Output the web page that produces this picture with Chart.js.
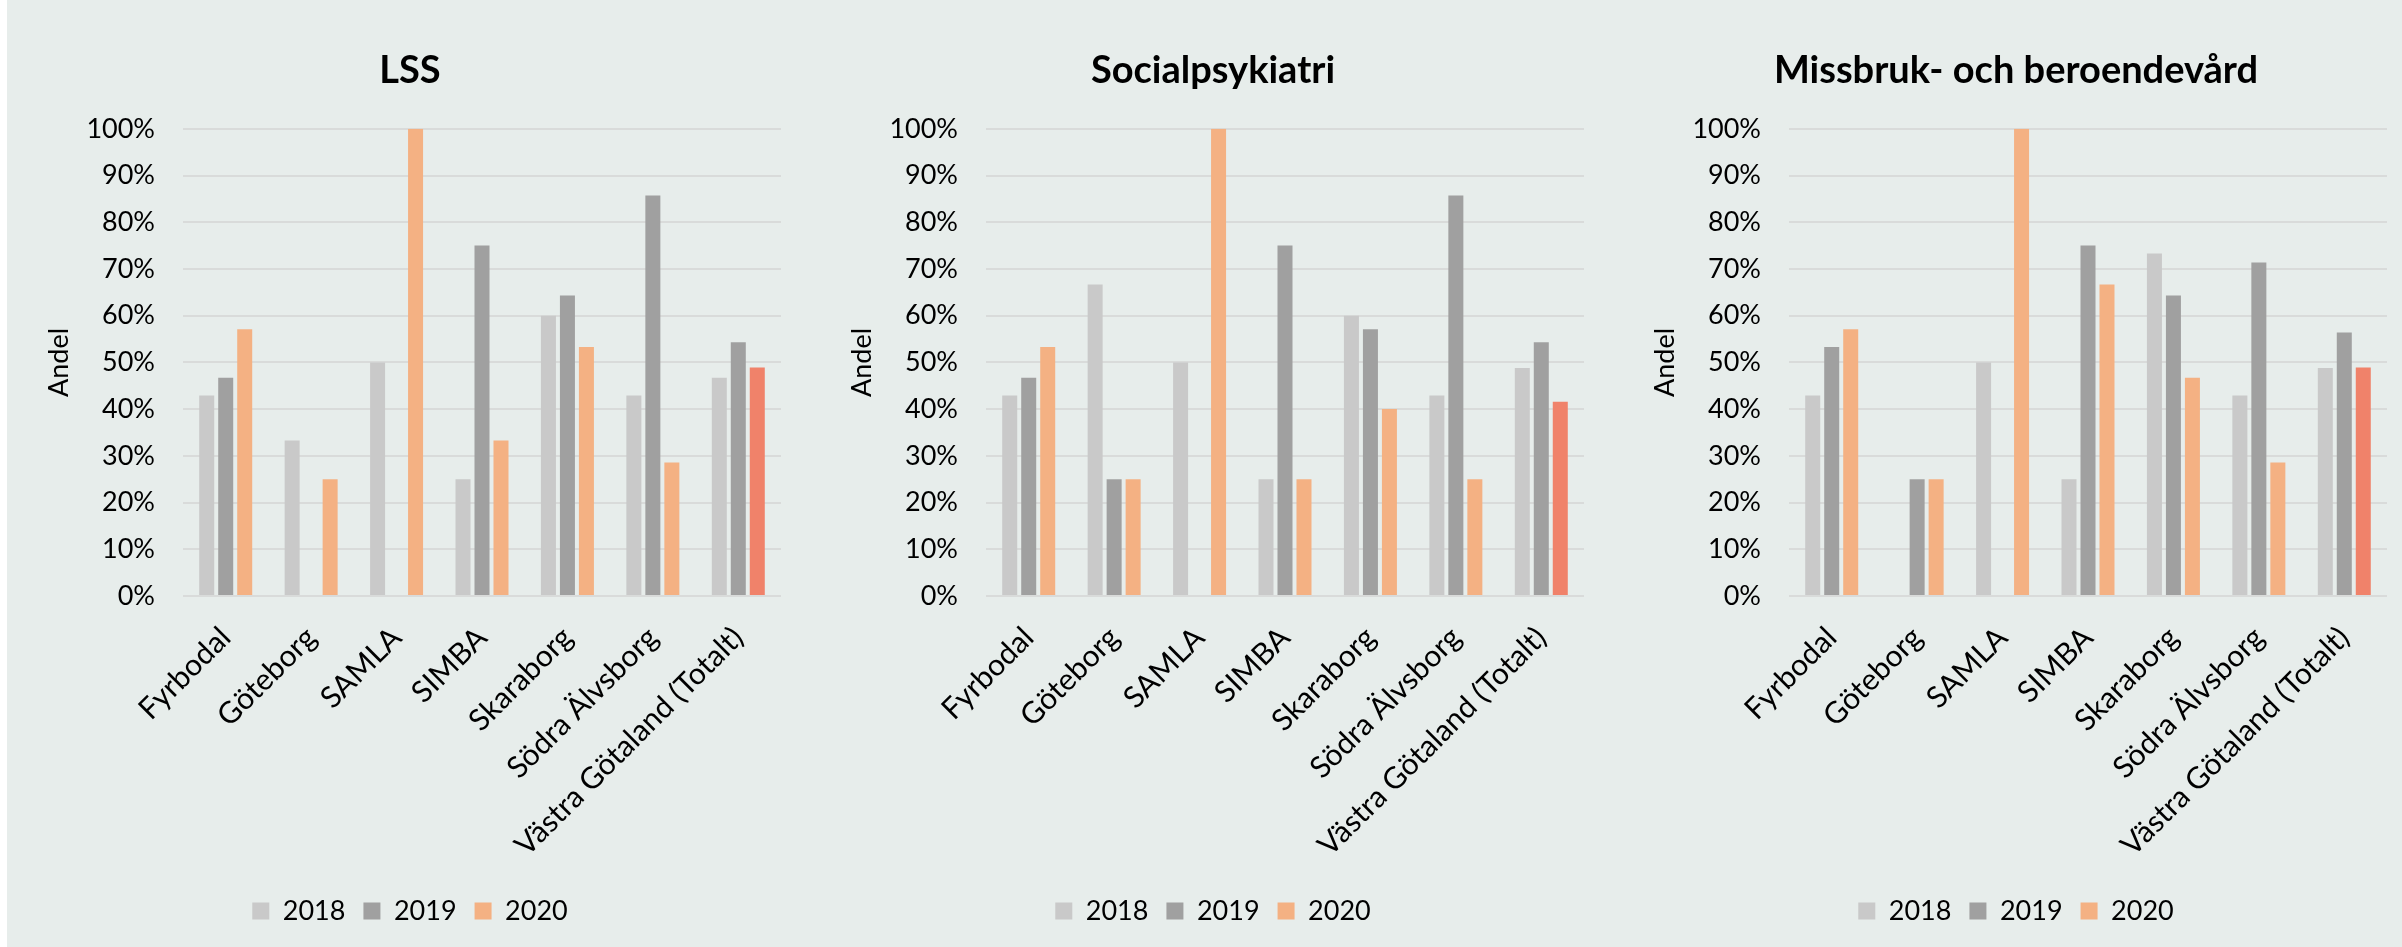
<!DOCTYPE html>
<html>
<head>
<meta charset="utf-8">
<script src="https://cdn.jsdelivr.net/npm/chart.js@4"></script>
<style>
  body { margin: 0; width: 2402px; height: 947px; background: #e7edeb; overflow: hidden; position: relative; }
  #strip { position: absolute; left: 0; top: 0; width: 7px; height: 947px; background: #fff; }
  canvas { position: absolute; top: 0; }
</style>
</head>
<body>
<div id="strip"></div>
<canvas id="c1" width="816" height="947" style="left:0px"></canvas>
<canvas id="c2" width="816" height="947" style="left:803px"></canvas>
<canvas id="c3" width="816" height="947" style="left:1606px"></canvas>
<script>
const categories = ["Fyrbodal", "Göteborg", "SAMLA", "SIMBA", "Skaraborg", "Södra Älvsborg", "Västra Götaland (Totalt)"];
const years = ["2018", "2019", "2020"];
const yTicks = [0, 10, 20, 30, 40, 50, 60, 70, 80, 90, 100];

// andel i procent, null = inget värde
const lss2018 = [42.9, 33.3, 50, 25, 60, 42.9, 46.7];
const lss2019 = [46.7, null, null, 75, 64.3, 85.7, 54.3];
const lss2020 = [57.1, 25, 100, 33.3, 53.3, 28.6, 48.9];

const soc2018 = [42.9, 66.7, 50, 25, 60, 42.9, 48.8];
const soc2019 = [46.7, 25, null, 75, 57.1, 85.7, 54.3];
const soc2020 = [53.3, 25, 100, 25, 40, 25, 41.6];

const mis2018 = [42.9, null, 50, 25, 73.3, 42.9, 48.8];
const mis2019 = [53.3, 25, null, 75, 64.3, 71.4, 56.4];
const mis2020 = [57.1, 25, 100, 66.7, 46.7, 28.6, 48.9];

Chart.defaults.font.family = "Lato, 'Open Sans', sans-serif";
Chart.defaults.font.size = 27;
Chart.defaults.color = "#000";

const GREY1 = "#c9c9c9";
const GREY2 = "#a0a0a0";
const PEACH = "#f4b183";
const SALMON = "#f0826a";

function makeChart(id, title, d2018, d2019, d2020) {
    const ctx = document.getElementById(id).getContext("2d");
    const last = categories.length - 1;

    new Chart(ctx, {
        type: "bar",
        data: {
            labels: categories,
            datasets: [
                { label: years[0], data: d2018, backgroundColor: GREY1 },
                { label: years[1], data: d2019, backgroundColor: GREY2 },
                {
                    label: years[2],
                    data: d2020,
                    backgroundColor: c => c.dataIndex === last ? SALMON : PEACH
                }
            ]
        },
        options: {
            responsive: false,
            animation: false,
            categoryPercentage: 0.667,
            barPercentage: 0.79,
            layout: { padding: { left: 39, right: 35, top: 0, bottom: 12.5 } },
            plugins: {
                title: {
                    display: true,
                    text: title,
                    font: { size: 38, weight: "bold" },
                    padding: { top: 48, bottom: 35.2 }
                },
                legend: {
                    position: "bottom",
                    labels: { boxWidth: 17, boxHeight: 17, padding: 18, font: { size: 27 } }
                },
                tooltip: { enabled: false }
            },
            scales: {
                x: {
                    grid: { display: false },
                    border: { display: false },
                    ticks: { minRotation: 45, maxRotation: 45, padding: 16, autoSkip: false, font: { size: 30 } },
                    afterFit: s => { s.height = 283.5; }
                },
                y: {
                    min: 0,
                    max: 100,
                    afterBuildTicks: s => { s.ticks = yTicks.map(v => ({ value: v })); },
                    ticks: { padding: 28, callback: v => v + "%" },
                    grid: { color: "#d9dbda", lineWidth: 2, drawTicks: false },
                    border: { display: false },
                    title: { display: true, text: "Andel", padding: { top: 4, bottom: 0 } },
                    afterFit: s => { s.width = 144; }
                }
            }
        }
    });
}

makeChart("c1", "LSS", lss2018, lss2019, lss2020);
makeChart("c2", "Socialpsykiatri", soc2018, soc2019, soc2020);
makeChart("c3", "Missbruk- och beroendevård", mis2018, mis2019, mis2020);
</script>
</body>
</html>
